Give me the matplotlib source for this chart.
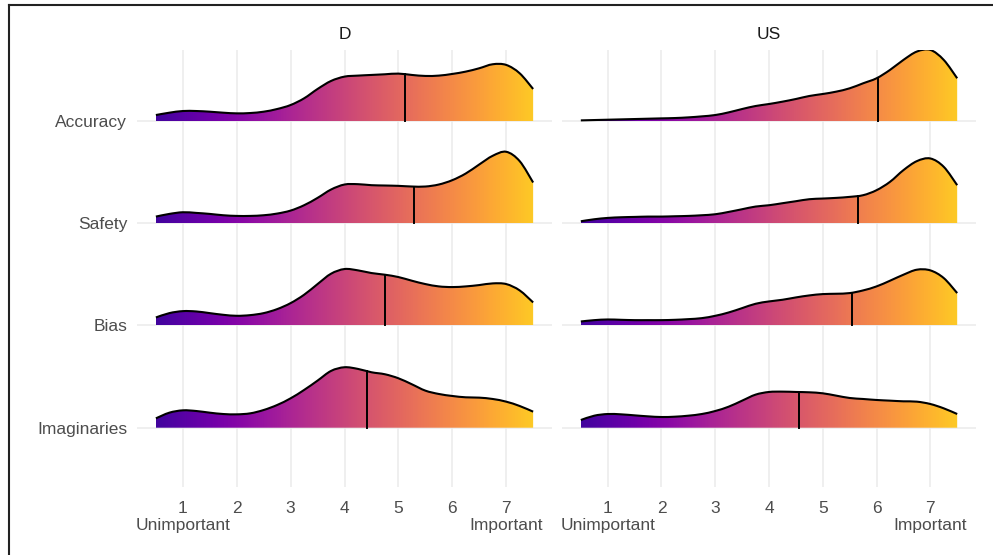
import numpy as np
import matplotlib.pyplot as plt
from matplotlib.patches import PathPatch
from matplotlib.path import Path
from matplotlib.lines import Line2D

plt.rcParams['font.family'] = ['Liberation Sans', 'DejaVu Sans']

# ridge categories, bottom to top
categories = ['Imaginaries', 'Bias', 'Safety', 'Accuracy']
panels = ['D', 'US']

# density evaluation grid (response scale 1..7)
grid = [0.5, 0.75, 1.0, 1.25, 1.5, 1.75, 2.0, 2.25, 2.5, 2.75, 3.0, 3.25, 3.5, 3.75,
        4.0, 4.25, 4.5, 4.75, 5.0, 5.25, 5.5, 5.75, 6.0, 6.25, 6.5, 6.75, 7.0, 7.25, 7.5]

# relative ridge heights
d_accuracy = [18, 25, 30, 30, 28, 25, 23, 24, 28, 36, 48, 68, 96, 120, 133, 136, 138, 140,
              142, 138, 135, 136, 141, 148, 158, 170, 168, 143, 96]
d_safety = [20, 28, 33, 31, 28, 24, 22, 22, 24, 29, 38, 54, 76, 101, 116, 117, 114, 113,
            112, 110, 110, 116, 129, 149, 176, 202, 214, 186, 122]
d_bias = [24, 37, 43, 42, 37, 32, 29, 31, 37, 49, 67, 92, 124, 155, 169, 165, 157, 152,
          145, 134, 124, 117, 115, 117, 121, 126, 124, 105, 69]
d_imaginaries = [28, 45, 52, 50, 45, 41, 40, 43, 53, 68, 88, 113, 141, 170, 181, 176, 166, 160,
                 148, 130, 111, 101, 95, 91, 90, 86, 78, 65, 48]
us_accuracy = [2, 3, 4, 5, 6, 7, 8, 9, 11, 14, 18, 26, 36, 45, 51, 58, 66, 75,
               81, 88, 98, 113, 128, 153, 183, 208, 213, 183, 128]
us_safety = [6, 12, 16, 18, 19, 20, 20, 21, 22, 24, 27, 34, 42, 50, 54, 60, 66, 72,
             74, 76, 79, 84, 99, 124, 159, 186, 194, 169, 114]
us_bias = [12, 16, 18, 17, 16, 16, 16, 17, 19, 22, 29, 39, 52, 65, 72, 77, 84, 90,
           94, 95, 97, 105, 117, 134, 152, 167, 165, 142, 97]
us_imaginaries = [23, 36, 41, 40, 37, 34, 32, 33, 36, 41, 50, 63, 81, 99, 107, 108, 107, 106,
                  103, 96, 89, 86, 83, 81, 79, 78, 71, 58, 41]

# mean lines
d_means = [4.42, 4.75, 5.29, 5.13]
us_means = [4.55, 5.55, 5.65, 6.02]

x_ticks = [1, 2, 3, 4, 5, 6, 7]
x_labels = ['1\nUnimportant', '2', '3', '4', '5', '6', '7\nImportant']

data = {
    'D': ([d_imaginaries, d_bias, d_safety, d_accuracy], d_means),
    'US': ([us_imaginaries, us_bias, us_safety, us_accuracy], us_means),
}

SCALE = 1 / 306.0


def smooth_path(x, y):
    # Catmull-Rom through the points, drawn as cubic Bezier segments
    verts = [(x[0], y[0])]
    codes = [Path.MOVETO]
    n = len(x)
    for k in range(n - 1):
        p0 = (x[max(k - 1, 0)], y[max(k - 1, 0)])
        p1 = (x[k], y[k])
        p2 = (x[k + 1], y[k + 1])
        p3 = (x[min(k + 2, n - 1)], y[min(k + 2, n - 1)])
        c1 = (p1[0] + (p2[0] - p0[0]) / 6, p1[1] + (p2[1] - p0[1]) / 6)
        c2 = (p2[0] - (p3[0] - p1[0]) / 6, p2[1] - (p3[1] - p1[1]) / 6)
        verts += [c1, c2, p2]
        codes += [Path.CURVE4] * 3
    return verts, codes


W, H = 993, 555
fig = plt.figure(figsize=(W / 100, H / 100), dpi=100)

positions = {'D': [137 / W, 1 - 487 / H, 415 / W, 437 / H],
             'US': [562 / W, 1 - 487 / H, 414 / W, 437 / H]}

gx = np.array(grid)
grad = np.linspace(0.1, 0.89, 400).reshape(1, -1)

for name in panels:
    ax = fig.add_axes(positions[name])
    ridges, means = data[name]
    ax.set_xlim(0.15, 7.85)
    ax.set_ylim(0.42, 4.695)
    for xv in x_ticks:
        ax.axvline(xv, color='#ebebeb', lw=1.1, zorder=0)
    for i in range(len(categories)):
        ax.axhline(i + 1, color='#ebebeb', lw=1.1, zorder=0)

    for i in reversed(range(len(categories))):
        base = i + 1
        h = np.array(ridges[i]) * SCALE
        top = base + h
        tv, tc = smooth_path(gx, top)
        fill_verts = tv + [(gx[-1], base), (gx[0], base), (gx[0], top[0])]
        fill_codes = tc + [Path.LINETO, Path.LINETO, Path.CLOSEPOLY]
        clip = PathPatch(Path(fill_verts, fill_codes), facecolor='none', edgecolor='none')
        ax.add_patch(clip)
        im = ax.imshow(grad, cmap='plasma', vmin=0, vmax=1, aspect='auto',
                       extent=[gx[0], gx[-1], base, top.max() + 0.05], origin='lower',
                       zorder=2 + (4 - i))
        im.set_clip_path(clip)
        ax.add_patch(PathPatch(Path(tv, tc), facecolor='none', edgecolor='black',
                               lw=1.5, zorder=3 + (4 - i), capstyle='butt'))
        m = means[i]
        ax.plot([m, m], [base, base + np.interp(m, gx, h)], color='black', lw=1.4,
                zorder=3 + (4 - i))

    ax.set_xticks(x_ticks)
    ax.set_xticklabels(x_labels, fontsize=12.5, color='#4d4d4d', linespacing=1.2)
    ax.set_yticks(range(1, len(categories) + 1))
    if name == 'D':
        ax.set_yticklabels(categories, fontsize=12.5, color='#4d4d4d')
    else:
        ax.set_yticklabels([])
    ax.tick_params(axis='x', length=0, pad=10)
    ax.tick_params(axis='y', length=0, pad=7)
    for s in ax.spines.values():
        s.set_visible(False)
    ax.set_title(name, fontsize=12.5, color='#1a1a1a', pad=8)

# plot border (only left and top edges visible in the frame)
fig.add_artist(Line2D([9 / W, 9 / W], [0, 1 - 5 / H], color='#222222', lw=1.5))
fig.add_artist(Line2D([9 / W, 1], [1 - 5 / H, 1 - 5 / H], color='#222222', lw=1.5))

fig.savefig('out.png', dpi=100)
